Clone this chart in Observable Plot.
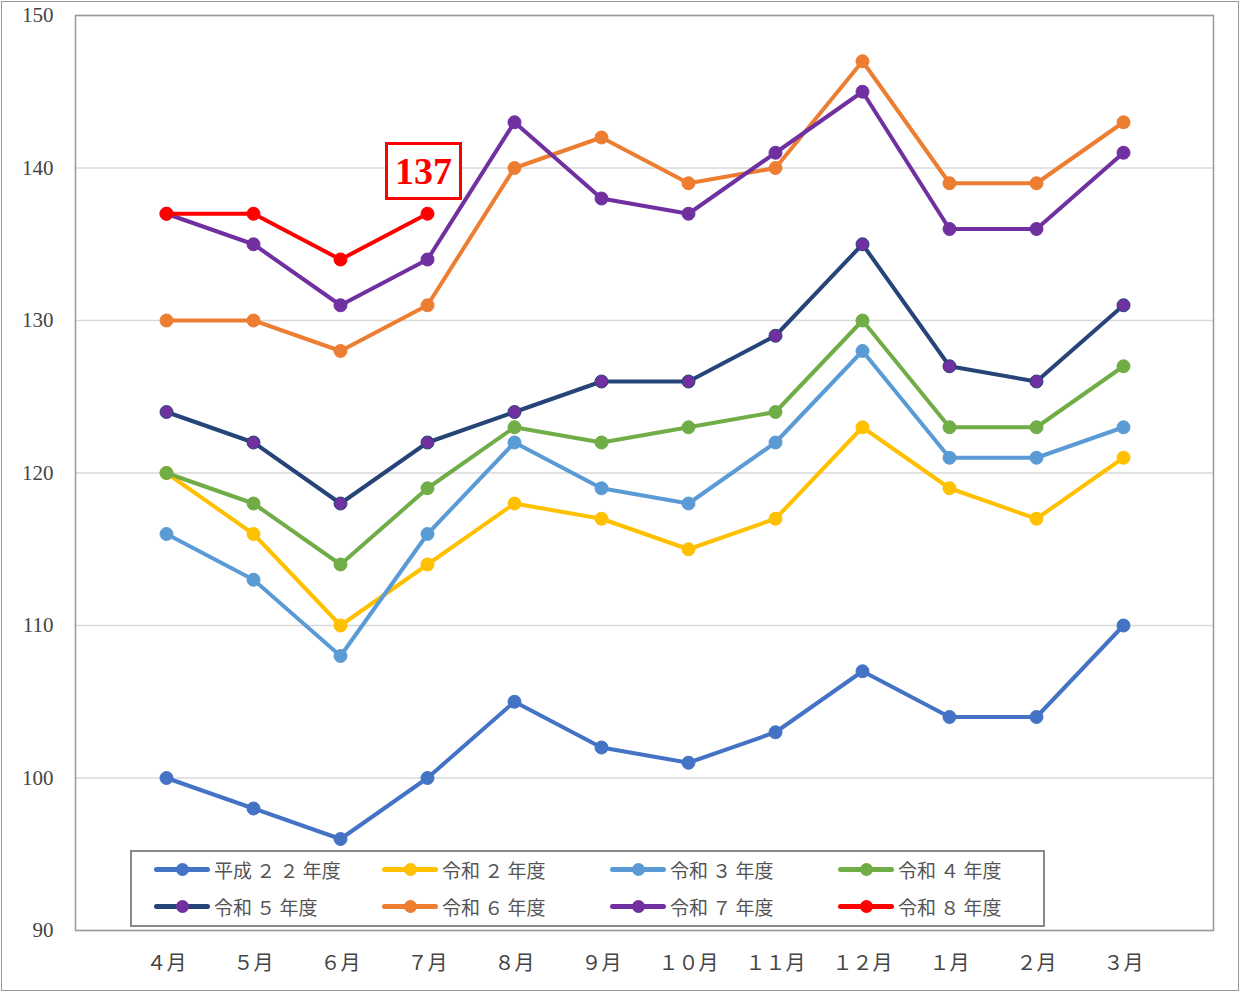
<!DOCTYPE html>
<html><head><meta charset="utf-8">
<script src="https://cdn.jsdelivr.net/npm/d3@7"></script>
<script src="https://cdn.jsdelivr.net/npm/@observablehq/plot@0.6"></script>
<style>
body{margin:0;background:#fff;}
#wrap{position:relative;width:1240px;height:992px;}
#outer{position:absolute;left:1px;top:1px;width:1236px;height:988px;border:1px solid #999;pointer-events:none;}
.leg{position:absolute;left:130px;top:850px;width:911px;height:73px;border:2px solid #888;background:#fff;font-family:"Noto Sans CJK JP";font-size:19px;color:#555;}
.item{position:absolute;display:flex;align-items:center;}
.sw{position:relative;width:56px;height:5px;border-radius:3px;margin-right:4px;}
.sw i{position:absolute;left:22px;top:-4px;width:13px;height:13px;border-radius:50%;}
#lab{position:absolute;border:3px solid #f00;color:#f00;font:bold 38px "Liberation Serif",serif;padding:0 7px;line-height:52px;background:#fff;}
</style></head><body>
<div id="wrap"><div id="outer"></div></div>
<script>
const months=["４月","５月","６月","７月","８月","９月","１０月","１１月","１２月","１月","２月","３月"];
const names=["平成２２年度","令和２年度","令和３年度","令和４年度","令和５年度","令和６年度","令和７年度","令和８年度"];
const lineColors=["#4472C4","#FFC000","#5B9BD5","#70AD47","#264478","#ED7D31","#7030A0","#FF0000"];
const dotColors=["#4472C4","#FFC000","#5B9BD5","#70AD47","#7030A0","#ED7D31","#7030A0","#FF0000"];
const h22=[100,98,96,100,105,102,101,103,107,104,104,110];
const r2=[120,116,110,114,118,117,115,117,123,119,117,121];
const r3=[116,113,108,116,122,119,118,122,128,121,121,123];
const r4=[120,118,114,119,123,122,123,124,130,123,123,127];
const r5=[124,122,118,122,124,126,126,129,135,127,126,131];
const r6=[130,130,128,131,140,142,139,140,147,139,139,143];
const r7=[137,135,131,134,143,138,137,141,145,136,136,141];
const r8=[137,137,134,137];
const series=[h22,r2,r3,r4,r5,r6,r7,r8];
const yTicks=[90,100,110,120,130,140,150];

const data=[];
series.forEach((s,i)=>s.forEach((v,j)=>data.push({m:months[j],v,s:names[i],i})));
const marks=[
  Plot.gridY(yTicks,{stroke:"#d9d9d9",strokeOpacity:1,strokeWidth:1.5}),
  Plot.frame({stroke:"#999",strokeWidth:1.5})
];
names.forEach((n,i)=>{
  const d=data.filter(e=>e.i===i);
  marks.push(Plot.line(d,{x:"m",y:"v",stroke:lineColors[i],strokeWidth:4}));
  marks.push(Plot.dot(d,{x:"m",y:"v",fill:dotColors[i],stroke:lineColors[i],strokeWidth:1,r:6.5}));
});
marks.push(Plot.axisY(yTicks,{tickSize:0,tickPadding:22,fontSize:21,fill:"#444",fontFamily:"Liberation Serif"}));
marks.push(Plot.axisX({tickSize:0,tickPadding:25,fontSize:20,fill:"#444",fontFamily:"Noto Sans CJK JP"}));
const plot=Plot.plot({
  width:1240,height:992,marginLeft:75,marginRight:27,marginTop:15,marginBottom:62,
  x:{type:"point",domain:months,range:[122,1166],label:null},
  y:{domain:[90,150],label:null},
  style:{background:"transparent"},
  marks
});
const wrap=document.getElementById("wrap");
plot.style.position="absolute";plot.style.left="0";plot.style.top="0";
wrap.insertBefore(plot,wrap.firstChild);
const xs=plot.scale("x"),ys=plot.scale("y");
const lab=document.createElement("div");lab.id="lab";lab.textContent=String(r8[r8.length-1]);
wrap.appendChild(lab);
const lx=xs.apply(months[r8.length-1]),ly=ys.apply(r8[r8.length-1]);
lab.style.left=(lx-42)+"px";lab.style.top=(ly-71)+"px";
const leg=document.createElement("div");leg.className="leg";wrap.appendChild(leg);
names.forEach((n,i)=>{
  const it=document.createElement("div");it.className="item";
  it.style.left=(22+(i%4)*228)+"px";it.style.top=(i<4?4:41)+"px";
  it.innerHTML=`<div class="sw" style="background:${lineColors[i]}"><i style="background:${dotColors[i]}"></i></div><span>${n.replace(/([０-９])/g," $1 ").replace(/\s+/g," ")}</span>`;
  leg.appendChild(it);
});
</script></body></html>
